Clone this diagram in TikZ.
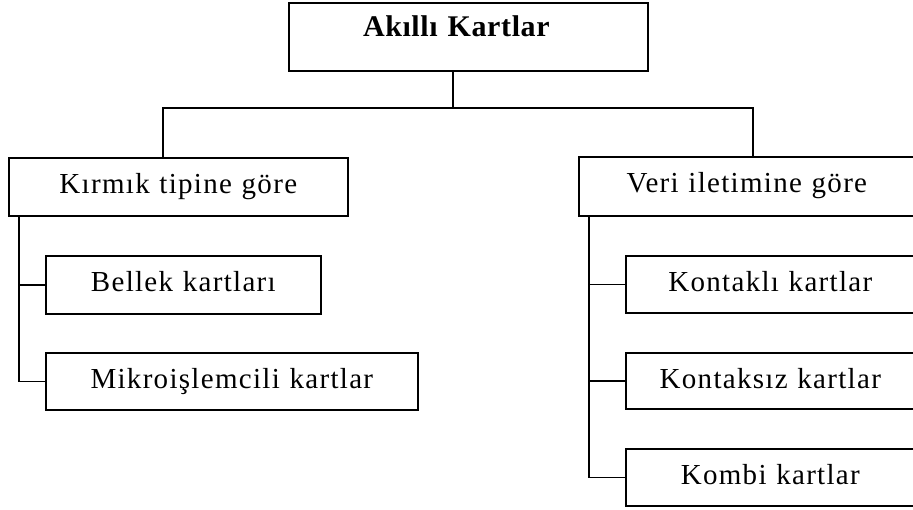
\documentclass[tikz,border=0pt]{standalone}
\usepackage{fontspec}
\setmainfont{Liberation Serif}
\newfontfamily\labfont{Liberation Serif}[LetterSpace=4.5]
\newfontfamily\headfont{Liberation Serif}[LetterSpace=2]
\begin{document}
\begin{tikzpicture}[x=1pt, y=-1pt,
  wire/.style={line width=1.6pt},
  box/.style 2 args={draw, line width=1.6pt, anchor=north west, inner sep=0pt,
    align=center, text width=#1, text height=36pt, text depth=#2,
    font=\labfont\fontsize{29}{32}\selectfont},
  headbox/.style={box={359pt}{32pt}, text height=34pt, text depth=34pt,
    font=\headfont\bfseries\fontsize{30}{32}\selectfont}]
  \clip (0,0) rectangle (913,509);
  \fill[white] (0,0) rectangle (913,509);

  % root
  \node[headbox] (top) at (288,2) {\hspace*{-24pt}Akıllı Kartlar};

  % first level
  \node[box={339pt}{22pt}] (kt) at (8,157) {Kırmık tipine göre};
  \node[box={336pt}{23pt}] (vi) at (578,156) {Veri iletimine göre};

  % left branch
  \node[box={275pt}{22pt}] (bk) at (45,255) {Bellek kartları};
  \node[box={372pt}{21pt}] (mk) at (45,352) {Mikroişlemcili kartlar};

  % right branch
  \node[box={289pt}{21pt}] (ko) at (625,255) {Kontaklı kartlar};
  \node[box={289pt}{20pt}] (ks) at (625,352) {Kontaksız kartlar};
  \node[box={289pt}{21pt}] (kb) at (625,448) {Kombi kartlar};

  % bus under the root
  \coordinate (busM) at (453,108);
  \coordinate (busL) at (163,108);
  \coordinate (busR) at (753,108);
  \draw[wire] (busM |- top.south) -- (busM);
  \draw[wire] (busL |- kt.north) -- (busL) -- (busR) -- (busR |- vi.north);

  % left spine
  \coordinate (spL) at (19,0);
  \draw[wire] (spL |- kt.south) |- (mk.west);
  \draw[wire] (spL |- bk.west) -- (bk.west);

  % right spine
  \coordinate (spR) at (589,0);
  \draw[wire] (spR |- vi.south) |- (kb.west);
  \draw[wire] (spR |- ko.west) -- (ko.west);
  \draw[wire] (spR |- ks.west) -- (ks.west);
\end{tikzpicture}
\end{document}
